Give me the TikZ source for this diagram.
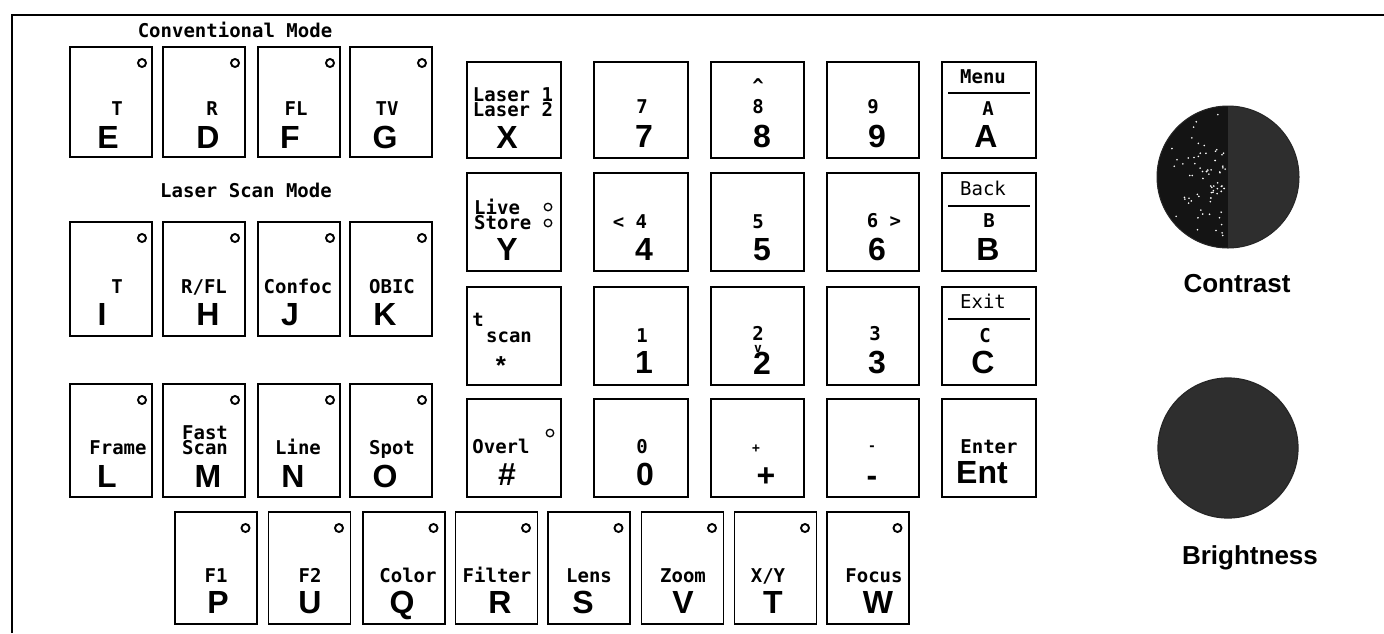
\documentclass[tikz,border=0pt]{standalone}
\usepackage{fontspec}
\setmainfont{Liberation Sans}
\newfontfamily\monof{DejaVu Sans Mono}
\usetikzlibrary{calc}
\definecolor{knobblack}{HTML}{141414}
\definecolor{knobgrey}{HTML}{2E2E2E}
\begin{document}
\begin{tikzpicture}[x=1pt,y=-1pt,
  key/.style={draw, rectangle, line width=1.6pt, inner sep=0pt, fill=white},
  led/.style={draw, circle, line width=1.9pt, minimum size=8pt, inner sep=0pt},
  sled/.style={draw, circle, line width=1.3pt, minimum size=7.5pt, inner sep=0pt},
  sm/.style={font=\monof\bfseries\fontsize{19}{19}\selectfont, inner sep=0pt, anchor=base},
  two/.style={font=\monof\bfseries\fontsize{19}{15}\selectfont, inner sep=0pt},
  smr/.style={font=\monof\fontsize{19}{19}\selectfont, inner sep=0pt, anchor=base},
  tiny/.style={font=\monof\bfseries\fontsize{13}{13}\selectfont, inner sep=0pt, anchor=base},
  big/.style={font=\bfseries\fontsize{32}{32}\selectfont, inner sep=0pt, anchor=base},
  knoblbl/.style={font=\bfseries\fontsize{26}{26}\selectfont, inner sep=0pt, anchor=base},
  sep/.style={line width=1.3pt}
]
\useasboundingbox (0,0) rectangle (1384,633);
\fill[white] (0,0) rectangle (1384,633);
% frame
\draw[line width=2.2pt] (12,633) -- (12,15) -- (1384,15);

% headings
\node[sm] (hconv) at (235,37) {Conventional Mode};
\node[sm] (hlaser) at (246,197) {Laser Scan Mode};

% ---------- left group ----------
\foreach \nm/\cx in {E/111,D/204,F/299,G/391}{
  \node[key, minimum width=82pt, minimum height=110pt] (k\nm) at (\cx,102) {};
  \node[led] (d\nm) at (\cx+31,63) {};
}
\foreach \nm/\cx in {I/111,H/204,J/299,K/391}{
  \node[key, minimum width=82pt, minimum height=114pt] (k\nm) at (\cx,279) {};
  \node[led] (d\nm) at (\cx+31,238) {};
}
\foreach \nm/\cx in {L/111,M/204,N/299,O/391}{
  \node[key, minimum width=82pt, minimum height=113pt] (k\nm) at (\cx,440.5) {};
  \node[led] (d\nm) at (\cx+31,400) {};
}
% row 1 labels
\node[sm] (sE) at (117,115) {T};   \node[big] (bE) at (108,148) {E};
\node[sm] (sD) at (212,115) {R};   \node[big] (bD) at (208,148) {D};
\node[sm] (sF) at (296,115) {FL};  \node[big] (bF) at (290,148) {F};
\node[sm] (sG) at (387,115) {TV};  \node[big] (bG) at (385,148) {G};
% row 2 labels
\node[sm] (sI) at (117,293) {T};      \node[big] (bI) at (102,325) {I};
\node[sm] (sH) at (204,293) {R/FL};   \node[big] (bH) at (208,325) {H};
\node[sm] (sJ) at (298,293) {Confoc}; \node[big] (bJ) at (290,325) {J};
\node[sm] (sK) at (392,293) {OBIC};   \node[big] (bK) at (385,325) {K};
% row 3 labels
\node[sm] (sL) at (118,454) {Frame};  \node[big] (bL) at (107,487) {L};
\node[two, align=center] (sM) at (205,440.6) {Fast\\Scan};
\node[big] (bM) at (208,487) {M};
\node[sm] (sN) at (298,454) {Line};   \node[big] (bN) at (293,487) {N};
\node[sm] (sO) at (392,454) {Spot};   \node[big] (bO) at (385,487) {O};

% ---------- bottom row ----------
\foreach \nm/\cx/\lx/\lab/\bx in {P/216/216/F1/218, U/309.5/310/F2/310, Q/404/408/Color/402, R/496.5/497/Filter/500, S/589/589/Lens/583, V/682.5/683/Zoom/683, T/775.5/768/X\slash Y/773, W/868/874/Focus/878}{
  \node[key, minimum width=82pt, minimum height=112pt] (k\nm) at (\cx,568) {};
  \node[led] (d\nm) at (\cx+29.5,528) {};
  \node[sm] (s\nm) at (\lx,582) {\lab};
  \node[big] (b\nm) at (\bx,613) {\nm};
}

% ---------- middle keypad ----------
\node[key, minimum width=94pt, minimum height=96pt] (kX) at (514,110) {};
\node[key, minimum width=94pt, minimum height=96pt] (k7) at (641,110) {};
\node[key, minimum width=93pt, minimum height=96pt] (k8) at (757.5,110) {};
\node[key, minimum width=92pt, minimum height=96pt] (k9) at (873,110) {};
\node[key, minimum width=94pt, minimum height=96pt] (kA) at (989,110) {};

\node[key, minimum width=94pt, minimum height=98pt] (kY) at (514,222) {};
\node[key, minimum width=94pt, minimum height=98pt] (k4) at (641,222) {};
\node[key, minimum width=93pt, minimum height=98pt] (k5) at (757.5,222) {};
\node[key, minimum width=92pt, minimum height=98pt] (k6) at (873,222) {};
\node[key, minimum width=94pt, minimum height=98pt] (kB) at (989,222) {};

\node[key, minimum width=94pt, minimum height=98pt] (kStar) at (514,336) {};
\node[key, minimum width=94pt, minimum height=98pt] (k1) at (641,336) {};
\node[key, minimum width=93pt, minimum height=98pt] (k2) at (757.5,336) {};
\node[key, minimum width=92pt, minimum height=98pt] (k3) at (873,336) {};
\node[key, minimum width=94pt, minimum height=98pt] (kC) at (989,336) {};

\node[key, minimum width=94pt, minimum height=98pt] (kHash) at (514,448) {};
\node[key, minimum width=94pt, minimum height=98pt] (k0) at (641,448) {};
\node[key, minimum width=93pt, minimum height=98pt] (kPlus) at (757.5,448) {};
\node[key, minimum width=92pt, minimum height=98pt] (kMinus) at (873,448) {};
\node[key, minimum width=94pt, minimum height=98pt] (kEnt) at (989,448) {};

% row 1
\node[two, align=center] (sX) at (513,102.6) {Laser 1\\Laser 2};
\node[big] (bX) at (507,148) {X};
\node[sm] (s7) at (642,113) {7};   \node[big] (b7) at (644,147) {7};
\node[sm] (s8c) at (758,92) {\^{}};
\node[sm] (s8) at (758,113) {8};   \node[big] (b8) at (762,147) {8};
\node[sm] (s9) at (873,113) {9};   \node[big] (b9) at (877,147) {9};
\node[sm] (sAm) at (983,83) {Menu};
\draw[sep] (948,93) -- (1030,93);
\node[sm] (sA) at (988,115) {A};   \node[big] (bA) at (986,147) {A};
% row 2
\node[two, align=left, anchor=west] (sY) at (474,214.6) {Live\\Store};
\node[sled] (dY1) at (548,207) {};
\node[sled] (dY2) at (548,223) {};
\node[big] (bY) at (507,260) {Y};
\node[sm] (s4) at (630,228) {< 4};  \node[big] (b4) at (644,260) {4};
\node[sm] (s5) at (758,228) {5};    \node[big] (b5) at (762,260) {5};
\node[sm] (s6) at (884,227) {6 >};  \node[big] (b6) at (877,260) {6};
\node[smr] (sBb) at (983,195) {Back};
\draw[sep] (948,206) -- (1030,206);
\node[sm] (sB) at (989,227) {B};    \node[big] (bB) at (988,260) {B};
% row 3
\node[sm] (sSt1) at (478,326) {t};
\node[sm] (sSt2) at (509,342) {scan};
\node[big, font=\bfseries\fontsize{26}{26}\selectfont] (bStar) at (501,374) {*};
\node[sm] (s1) at (642,342) {1};    \node[big] (b1) at (644,373) {1};
\node[sm] (s2) at (758,340) {2};
\node[tiny] (s2v) at (758,352) {v};
\node[big] (b2) at (762,374) {2};
\node[sm] (s3) at (875,340) {3};    \node[big] (b3) at (877,373) {3};
\node[smr] (sCe) at (983,308) {Exit};
\draw[sep] (948,319) -- (1030,319);
\node[sm] (sC) at (985,342) {C};    \node[big] (bC) at (983,373) {C};
% row 4
\node[sm] (sHash) at (501,453) {Overl};
\node[sled] (dHash) at (550,433) {};
\node[big] (bHash) at (507,485) {\#};
\node[sm] (s0) at (642,453) {0};    \node[big] (b0) at (645,485) {0};
\node[tiny] (sPlus) at (756,452) {+};  \node[big] (bPlus) at (766,486) {+};
\node[tiny] (sMinus) at (872,450) {-}; \node[big] (bMinus) at (872,486) {-};
\node[sm] (sEnt) at (989,453) {Enter};
\node[big] (bEnt) at (982,483) {Ent};

% ---------- knobs ----------
\coordinate (cC) at (1228,177);
\coordinate (cBr) at (1228,448);
\begin{scope}
  \clip (cC) circle (71);
  \fill[knobgrey] (1150,100) rectangle (1305,255);
  \fill[knobblack] (1150,100) rectangle (1228,255);
  \pgfmathsetseed{11}
  \foreach \i in {1,...,70}{
    \pgfmathsetmacro\ang{95+170*rnd}
    \pgfmathsetmacro\rr{8+58*rnd}
    \fill[white] ($(cC)+(\ang:\rr)$) circle (0.9);
  }
\end{scope}
\draw[line width=1pt, black!85] (cC) circle (71);
\fill[knobgrey] (cBr) circle (70);
\draw[line width=1.2pt, black!85] (cBr) circle (70);
\node[knoblbl] (lContrast) at (1237,292) {Contrast};
\node[knoblbl] (lBright) at (1250,564) {Brightness};
\end{tikzpicture}
\end{document}
